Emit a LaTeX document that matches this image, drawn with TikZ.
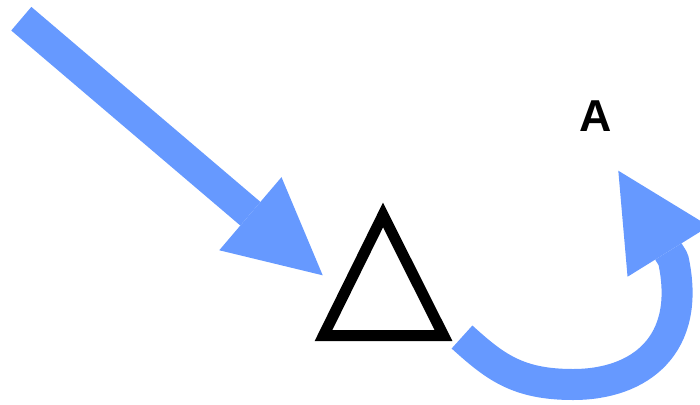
\documentclass[tikz,border=0pt]{standalone}
\usepackage{fontspec}
\setmainfont{Liberation Sans}
\usetikzlibrary{arrows.meta}
\definecolor{flowblue}{HTML}{6699FF}
\begin{document}
\begin{tikzpicture}[x=1pt, y=-1pt,
  >={Triangle[length=95pt, width=96pt, line width=0pt]},
  flow/.style={draw=flowblue, line width=31pt, line join=round, ->},
  lbl/.style={font=\bfseries\fontsize{44.7}{50}\selectfont, inner sep=0pt}]
  \useasboundingbox (0,0) rectangle (700,404);
  \clip (0,0) rectangle (700,404);

  % incoming arrow
  \coordinate (inTail) at (21.3,18.7);
  \coordinate (inTip) at (322.7,275.3);
  \draw[flow] (inTail) -- (inTip);

  % triangle
  \coordinate (apex) at (383,215);
  \coordinate (left) at (323.5,335.5);
  \coordinate (right) at (443.5,335.5);
  \draw[line width=11pt, line join=miter] (apex) -- (left) -- (right) -- cycle;

  % looping arrow
  \coordinate (loopTail) at (462,337);
  \coordinate (loopLow) at (573,384.5);
  \coordinate (loopBase) at (673.2,259.3);
  \coordinate (loopTip) at (618.3,170.7);
  \draw[flow] (loopTail) .. controls (495.3,367.2) and (518,384.5) .. (loopLow)
    .. controls (640,384.5) and (692,345) .. (loopBase) -- (loopTip);

  \node[lbl] (labelA) at (596,116) {A};
\end{tikzpicture}
\end{document}
